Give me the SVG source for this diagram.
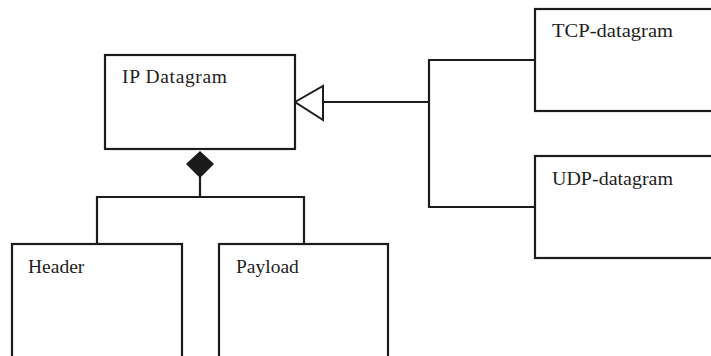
<svg xmlns="http://www.w3.org/2000/svg" width="711" height="356" viewBox="0 0 711 356">
<defs>
<style>
.box{fill:#fff;stroke:#1c1c1c;stroke-width:2.2}
.lbl{font-family:"Liberation Serif","Times New Roman",serif;font-size:19.5px;fill:#1e1e1e}
.ln{fill:none;stroke:#1c1c1c;stroke-width:2.2}
</style>
</defs>
<rect x="0" y="0" width="711" height="356" fill="#fff"/>
<g id="connectors">
<polyline class="ln" points="323,102 429,102"/>
<polyline class="ln" points="535,60 429,60 429,207 535,207"/>
<polygon points="295,102 323,86 323,120" fill="#fff" stroke="#1c1c1c" stroke-width="2"/>
<polyline class="ln" points="200,177 200,197"/>
<polyline class="ln" points="97,244 97,197 304,197 304,244"/>
<polygon points="200,151 214,164 200,178 186,164" fill="#1a1a1a"/>
</g>
<g id="ip-datagram">
<rect class="box" x="105" y="55" width="190" height="94"/>
<text class="lbl" x="122" y="83" textLength="105" lengthAdjust="spacing">IP Datagram</text>
</g>
<g id="tcp-datagram">
<rect class="box" x="535" y="9" width="190" height="102"/>
<text class="lbl" x="552" y="37" textLength="121" lengthAdjust="spacingAndGlyphs">TCP-datagram</text>
</g>
<g id="udp-datagram">
<rect class="box" x="535" y="156" width="190" height="102"/>
<text class="lbl" x="552" y="185" textLength="121" lengthAdjust="spacingAndGlyphs">UDP-datagram</text>
</g>
<g id="header">
<rect class="box" x="12" y="244" width="170" height="130"/>
<text class="lbl" x="28" y="273">Header</text>
</g>
<g id="payload">
<rect class="box" x="219" y="244" width="169" height="130"/>
<text class="lbl" x="236" y="273">Payload</text>
</g>
</svg>
